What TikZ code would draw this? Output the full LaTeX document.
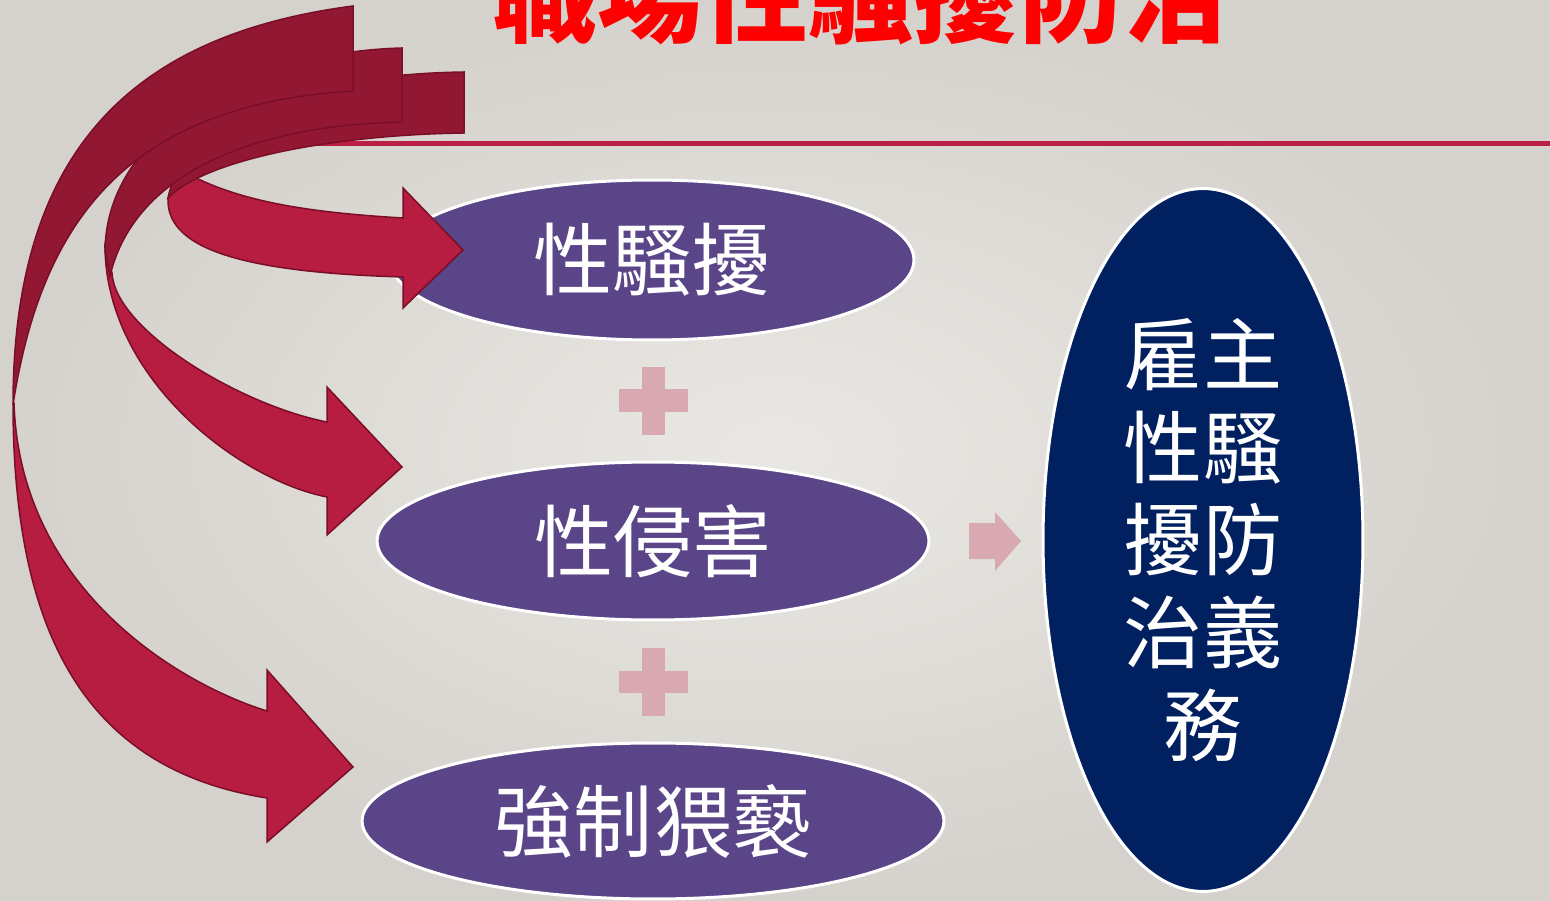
\documentclass[tikz,border=0pt]{standalone}
\usepackage{fontspec}
\newfontfamily\cjk{Noto Sans CJK TC}
\usetikzlibrary{shapes.geometric}

\definecolor{bglight}{RGB}{234,232,228}
\definecolor{bgdark}{RGB}{213,210,205}
\definecolor{titlered}{RGB}{255,0,0}
\definecolor{rulered}{RGB}{185,32,68}
\definecolor{ribbonback}{RGB}{145,23,51}
\definecolor{ribbonfront}{RGB}{182,29,65}
\definecolor{ribbonedge}{RGB}{122,14,38}
\definecolor{ovalpurple}{RGB}{90,69,136}
\definecolor{ovalnavy}{RGB}{0,32,96}
\definecolor{pinkmark}{RGB}{217,169,177}

\tikzset{
  oval/.style={ellipse, draw=white, line width=1.7pt, fill=ovalpurple, text=white,
    inner sep=0pt, font=\cjk\fontsize{45}{54}\selectfont},
  ribbon back/.style={fill=ribbonback, draw=ribbonedge, line width=0.85pt},
  ribbon front/.style={fill=ribbonfront, draw=ribbonedge, line width=0.85pt},
  pluspart/.style={fill=pinkmark}
}

\begin{document}
\begin{tikzpicture}[x=0.02cm, y=-0.02cm]
	\useasboundingbox (0,0) rectangle (1550,901);
	\clip (0,0) rectangle (1550,901);
	\shade[inner color=bglight, outer color=bgdark] (0,0) rectangle (1550,901);

	% title and rule
	\node[anchor=base, text=titlered, font=\cjk\bfseries\fontsize{60}{70}\selectfont] (title) at (861,35) {職場性騷擾防治};
	\draw[rulered, line width=3.4pt] (250,143.5) -- (1550,143.5);

	% ovals
	\node[oval, minimum width=10.48cm, minimum height=3.2cm] (harass) at (652,260) {性騷擾};
	\node[oval, minimum width=11.04cm, minimum height=3.16cm] (assault) at (653,541) {性侵害};
	\node[oval, minimum width=11.64cm, minimum height=3.12cm] (indecency) at (653,821) {強制猥褻};
	\node[oval, fill=ovalnavy, minimum width=6.4cm, minimum height=14.06cm, align=center,
	  font=\cjk\fontsize{45}{52.7}\selectfont] (duty) at (1203,540) {雇主\\性騷\\擾防\\治義\\務};

	% plus signs
	\fill[pluspart] (642,367) rectangle (665,435);
	\fill[pluspart] (619,389) rectangle (688,412);
	\fill[pluspart] (642,648) rectangle (665,716);
	\fill[pluspart] (619,671) rectangle (688,693);

	% arrow to the duty oval
	\fill[pluspart] (969,523) -- (995,523) -- (995,512) -- (1021,541) -- (995,571) -- (995,559) -- (969,559) -- cycle;

	% curved arrow to harass
	\draw[ribbon front] (168,198) .. controls (166,245) and (230,272) .. (403,277) -- (403,308) -- (463,250)
	  -- (403,188) -- (403,218) .. controls (300,212) and (240,200) .. (192,176) -- cycle;
	\draw[ribbon back] (464,72) .. controls (320,74) and (185,112) .. (168,198)
	  .. controls (205,160) and (330,135) .. (464,133) -- cycle;

	% curved arrow to assault
	\draw[ribbon front] (105,248) .. controls (107,380) and (240,480) .. (327,497) -- (327,535) -- (402,467)
	  -- (327,387) -- (327,422) .. controls (240,405) and (115,330) .. (112,273) -- cycle;
	\draw[ribbon back] (402,48) .. controls (250,52) and (107,130) .. (105,250) -- (110,276)
	  .. controls (135,170) and (260,125) .. (402,122) -- cycle;

	% curved arrow to indecency
	\draw[ribbon front] (13,403) .. controls (13,640) and (90,770) .. (267,798) -- (267,842) -- (353,767)
	  -- (267,670) -- (267,711) .. controls (180,684) and (20,590) .. (14,403) -- cycle;
	\draw[ribbon back] (353,6) .. controls (123,36) and (13,160) .. (13,405)
	  .. controls (40,230) and (120,105) .. (353,91) -- cycle;
\end{tikzpicture}
\end{document}
